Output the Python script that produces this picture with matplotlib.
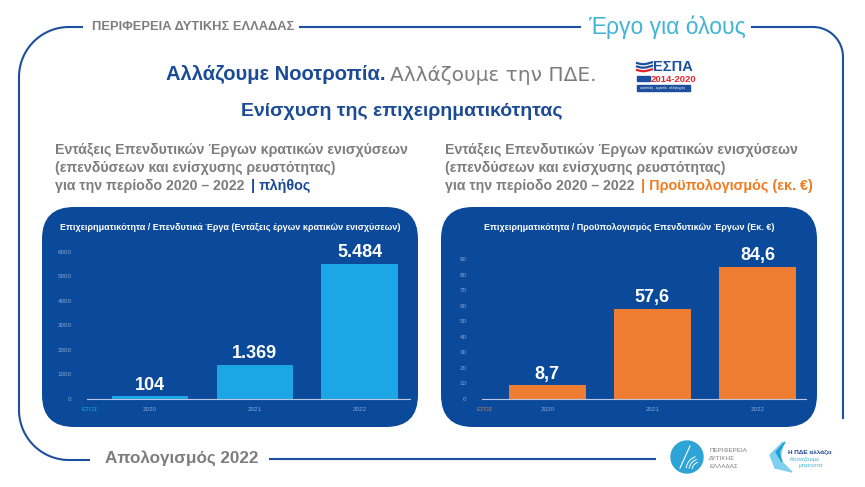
"""Slide: business support approvals 2020-2022 (count and budget)."""

import matplotlib

matplotlib.use("Agg")
import matplotlib.pyplot as plt  # noqa: E402
import numpy as np  # noqa: E402
from matplotlib.patches import Circle, FancyBboxPatch, Polygon  # noqa: E402

plt.rcParams["font.family"] = ["Liberation Sans", "DejaVu Sans"]

# data
years = ["2020", "2021", "2022"]
projects = [104, 1369, 5484]
budget = [8.7, 57.6, 84.6]
projects_ticks = [0, 1000, 2000, 3000, 4000, 5000, 6000]
budget_ticks = [0, 10, 20, 30, 40, 50, 60, 70, 80, 90]

W, H = 865, 487
FRAME = "#1d4f9f"
NAVY = "#1b4a96"
PANEL = "#0b4a9b"
GREY = "#7d7d7d"
LIGHT_BLUE = "#1ca6e6"
ORANGE = "#ef7d31"
TICK = "#8fa6cf"

fig = plt.figure(figsize=(W / 100, H / 100), dpi=100)
fig.patch.set_facecolor("white")
bg = fig.add_axes([0, 0, 1, 1])
bg.set_xlim(0, W)
bg.set_ylim(H, 0)
bg.axis("off")


def arc(cx, cy, r, t0, t1, n=30):
    t = np.radians(np.linspace(t0, t1, n))
    return cx + r * np.cos(t), cy - r * np.sin(t)


# outer frame
ax_, ay_ = arc(69, 77, 50, 90, 180)
bx_, by_ = arc(69, 410, 50, 180, 270)
fx = np.concatenate([[83], ax_, bx_, [90]])
fy = np.concatenate([[27], ay_, by_, [460]])
bg.plot(fx, fy, color=FRAME, lw=1.5, solid_capstyle="butt")
cx_, cy_ = arc(813, 57, 30, 90, 0)
bg.plot(np.concatenate([[752], cx_, [843]]), np.concatenate([[27], cy_, [418]]),
        color=FRAME, lw=1.5)
bg.plot([300, 580], [27, 27], color=FRAME, lw=1.5)
bg.plot([270, 655], [459, 459], color=FRAME, lw=1.5)

# header texts
bg.text(92, 27, "ΠΕΡΙΦΕΡΕΙΑ ΔΥΤΙΚΗΣ ΕΛΛΑΔΑΣ", color=GREY, fontsize=9.3,
        fontweight="bold", va="center", ha="left")
bg.text(588, 27, "Έργο για όλους", color="#41b4d6", fontsize=16.5,
        va="center", ha="left")
bg.text(385, 75, "Αλλάζουμε Νοοτροπία.", color=NAVY, fontsize=14.5,
        fontweight="bold", va="center", ha="right")
bg.text(390, 75, "Αλλάζουμε την ΠΔΕ.", color=GREY, fontsize=14.5,
        family=["DejaVu Sans"], va="center", ha="left")
bg.text(402, 111, "Ενίσχυση της επιχειρηματικότητας", color=NAVY,
        fontsize=14, fontweight="bold", va="center", ha="center")

# ESPA logo
for i, c in enumerate(["#1d4f9f", "#1d4f9f", "#e3262d"]):
    xs = np.linspace(637, 652, 10)
    bg.plot(xs, 63 + i * 3.5 + 1.2 * np.sin((xs - 637) / 4), color=c, lw=1.6)
bg.text(653, 67, "ΕΣΠΑ", color="#1d4f9f", fontsize=10.5, fontweight="bold",
        va="center", ha="left")
bg.add_patch(FancyBboxPatch((637, 76), 13, 5, boxstyle="square,pad=0",
                            color="#1d4f9f"))
bg.text(651, 79, "2014-2020", color="#e3262d", fontsize=6.8,
        fontweight="bold", va="center", ha="left")
bg.add_patch(FancyBboxPatch((637, 85), 53, 6, boxstyle="square,pad=0",
                            color="#1d4f9f"))
bg.text(663, 88, "ανάπτυξη - εργασία - αλληλεγγύη", color="white",
        fontsize=2.2, va="center", ha="center")

# section headings above panels
head = ["Εντάξεις Επενδυτικών Έργων κρατικών ενισχύσεων",
        "(επενδύσεων και ενίσχυσης ρευστότητας)",
        "για την περίοδο 2020 – 2022"]
for x0, tail, tail_col in [(55, "| πλήθος", NAVY),
                           (445, "| Προϋπολογισμός (εκ. €)", "#f07c22")]:
    last = None
    for k, line in enumerate(head):
        last = bg.text(x0, 150 + k * 18, line, color=GREY, fontsize=10.2,
                       fontweight="bold", va="center", ha="left")
    bg.annotate(tail, xy=(1, 0.5), xycoords=last, xytext=(5, 0),
                textcoords="offset points", color=tail_col, fontsize=10.4,
                fontweight="bold", va="center", ha="left")

# panels
panels = [
    (42, 418, "Επιχειρηματικότητα / Επενδυτικά Έργα (Εντάξεις έργων κρατικών ενισχύσεων)"),
    (441, 817, "Επιχειρηματικότητα / Προϋπολογισμός Επενδυτικών Έργων (Εκ. €)"),
]
for x0, x1, title in panels:
    bg.add_patch(FancyBboxPatch((x0, 207), x1 - x0, 220,
                                boxstyle="round,pad=0,rounding_size=32",
                                facecolor=PANEL, edgecolor="none"))
    bg.text((x0 + x1) / 2, 227, title, color="white", fontsize=6.5,
            fontweight="bold", va="center", ha="center")


def bar_chart(px0, px1, values, ticks, ymax, color, xlim, fmt, etos_col):
    ax = fig.add_axes([px0 / W, (H - 399) / H, (px1 - px0) / W, 154 / H])
    ax.patch.set_alpha(0)
    x = np.arange(len(years))
    ax.bar(x, values, width=0.73, color=color, zorder=2)
    for xi, v in zip(x, values):
        ax.annotate(fmt(v), (xi, v), xytext=(0, 5), textcoords="offset points",
                    ha="center", va="baseline", color="white", fontsize=13,
                    fontweight="bold")
    ax.set_xlim(*xlim)
    ax.set_ylim(0, ymax)
    ax.set_xticks(x, years)
    ax.set_yticks(ticks)
    ax.tick_params(axis="both", length=0, labelsize=4.5, labelcolor=TICK)
    ax.tick_params(axis="y", pad=11)
    ax.tick_params(axis="x", pad=6)
    for s in ["top", "right", "left"]:
        ax.spines[s].set_visible(False)
    ax.spines["bottom"].set_color("#b9c7e2")
    ax.spines["bottom"].set_linewidth(0.8)
    ax.text(0.01, -0.07, "ΕΤΟΣ", transform=ax.transAxes, color=etos_col,
            fontsize=4.5, va="center", ha="center")
    return ax


bar_chart(87, 410, projects, projects_ticks, 6270, LIGHT_BLUE, (-0.6, 2.48),
          lambda v: f"{v:,}".replace(",", "."), LIGHT_BLUE)
bar_chart(482, 806, budget, budget_ticks, 99, ORANGE, (-0.62, 2.46),
          lambda v: f"{v:.1f}".replace(".", ","), "#c9834f")

# footer
bg.text(105, 458, "Απολογισμός 2022", color=GREY, fontsize=12.3,
        fontweight="bold", va="center", ha="left")

# footer logos
bg.add_patch(Circle((687, 457), 16, color="#2ea3d5"))
for r in (8, 11, 14):
    lx, ly = arc(700, 470, r, 110, 170, 12)
    bg.plot(lx, ly, color="white", lw=0.7)
bg.plot([680, 690], [468, 446], color="white", lw=0.8)
for k, t in enumerate(["ΠΕΡΙΦΕΡΕΙΑ", "ΔΥΤΙΚΗΣ", "ΕΛΛΑΔΑΣ"]):
    bg.text(709, 450 + k * 8, t, color=GREY, fontsize=4.5, va="center",
            ha="left")
bg.add_patch(Polygon([(783, 442), (770, 455), (775, 468), (792, 472),
                      (780, 460)], color="#7fd0ee"))
bg.add_patch(Polygon([(785, 442), (776, 452), (782, 462), (779, 452)],
                     color="#1ba3d6"))
bg.text(788, 452, "Η ΠΔΕ αλλάζει", color=NAVY, fontsize=4.6,
        fontweight="bold", va="center", ha="left")
bg.text(790, 459, "Κοιτάζουμε", color="#41b4d6", fontsize=4.5,
        style="italic", va="center", ha="left")
bg.text(798, 466, "μπροστά", color="#41b4d6", fontsize=4.5,
        style="italic", va="center", ha="left")

fig.savefig("out.png", dpi=100, facecolor="white")
